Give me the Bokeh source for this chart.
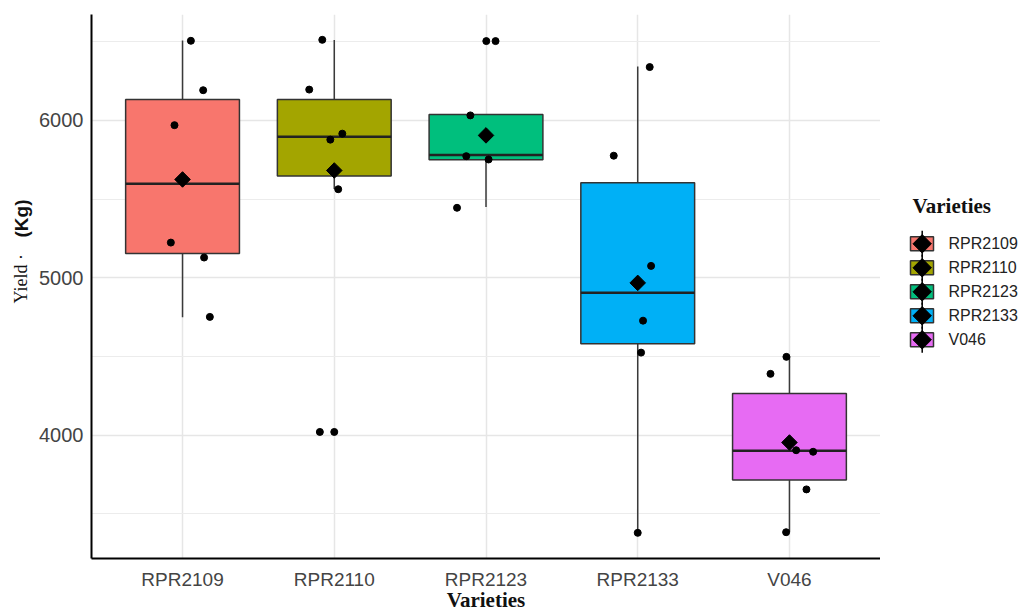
import math
from bokeh.plotting import figure
from bokeh.models import Range1d, FixedTicker, Label, ColumnDataSource
from bokeh.layouts import row
from bokeh.embed import file_html
from bokeh.resources import INLINE

# ---------------- data ----------------
varieties = ["RPR2109", "RPR2110", "RPR2123", "RPR2133", "V046"]
colors = ["#F8766D", "#A3A500", "#00BF7D", "#00B0F6", "#E76BF3"]

q1 = [5155, 5647, 5750, 4582, 3715]
median = [5598, 5897, 5780, 4905, 3901]
q3 = [6133, 6133, 6038, 5604, 4266]
whisker_low = [4750, 5565, 5450, 3380, 3386]
whisker_high = [6508, 6511, 6038, 6343, 4500]
means = [5625, 5682, 5905, 4968, 3954]

rpr2109_yield = [6506, 6192, 5970, 5224, 5129, 4752]
rpr2109_jitter = [0.055, 0.136, -0.053, -0.077, 0.142, 0.180]
rpr2110_yield = [6512, 6196, 5916, 5878, 5563, 4021, 4021]
rpr2110_jitter = [-0.079, -0.165, 0.053, -0.026, 0.026, -0.095, 0.0]
rpr2123_yield = [6504, 6504, 6032, 5773, 5752, 5445]
rpr2123_jitter = [0.002, 0.063, -0.103, -0.130, 0.017, -0.191]
rpr2133_yield = [5776, 6339, 5076, 4728, 4525, 3380]
rpr2133_jitter = [-0.158, 0.079, 0.088, 0.035, 0.022, 0.0]
v046_yield = [4390, 4498, 3905, 3895, 3656, 3384]
v046_jitter = [-0.125, -0.020, 0.044, 0.156, 0.112, -0.022]

y_ticks = [4000, 5000, 6000]
y_minor = [3500, 4500, 5500, 6500]

# ---------------- layout constants ----------------
H = 614
TOP, BOTTOM = 14, 56          # borders shared by all panels
LEFT_W = 34                   # y-title panel
FRAME_L = 91
FRAME_R = 880
MAIN_W = FRAME_R - LEFT_W
LEG_W = 1019 - FRAME_R
FRAME_TOP, FRAME_BOT = TOP, H - BOTTOM

# ---------------- y title panel ----------------
yt = figure(width=LEFT_W, height=H, x_range=Range1d(0, LEFT_W),
            y_range=Range1d(FRAME_BOT, FRAME_TOP),
            output_backend="svg", toolbar_location=None,
            min_border_left=0, min_border_right=0,
            min_border_top=TOP, min_border_bottom=BOTTOM,
            x_axis_location=None, y_axis_location=None)
yt.outline_line_color = None
yt.grid.visible = False
yt.add_layout(Label(x=20, y=303, text="Yield ·", angle=90, angle_units="deg",
                    text_align="left", text_baseline="middle",
                    text_font="Liberation Serif", text_font_size="18px",
                    text_color="#111111"))
yt.add_layout(Label(x=21, y=237, text="(Kg)", angle=90, angle_units="deg",
                    text_align="left", text_baseline="middle",
                    text_font="Liberation Sans", text_font_style="bold",
                    text_font_size="19px", text_color="#111111"))

# ---------------- main plot ----------------
BOX_W = 0.75
xs = [i + 1 for i in range(len(varieties))]

p = figure(width=MAIN_W, height=H,
           x_range=Range1d(0.4, 5.6), y_range=Range1d(3217, 6673),
           output_backend="svg", toolbar_location=None,
           min_border_left=FRAME_L - LEFT_W, min_border_right=0,
           min_border_top=TOP, min_border_bottom=BOTTOM)
p.outline_line_color = None
p.background_fill_color = "white"
p.border_fill_color = "white"

# grid
p.xaxis.ticker = FixedTicker(ticks=xs)
p.yaxis.ticker = FixedTicker(ticks=y_ticks, minor_ticks=y_minor)
p.xgrid.ticker = FixedTicker(ticks=xs)
p.ygrid.ticker = FixedTicker(ticks=y_ticks, minor_ticks=y_minor)
p.xgrid.grid_line_color = "#e6e6e6"
p.xgrid.grid_line_width = 1.5
p.ygrid.grid_line_color = "#e6e6e6"
p.ygrid.grid_line_width = 1.5
p.ygrid.minor_grid_line_color = "#ececec"
p.ygrid.minor_grid_line_width = 1.2

# axes
for ax in (p.xaxis, p.yaxis):
    ax.axis_line_color = "black"
    ax.axis_line_width = 2
    ax.major_tick_line_color = None
    ax.minor_tick_line_color = None
    ax.major_tick_out = 0
    ax.major_tick_in = 0
    ax.minor_tick_out = 0
    ax.minor_tick_in = 0
    ax.major_label_text_font = "Liberation Sans"
    ax.major_label_text_color = "#444444"
p.xaxis.major_label_text_font_size = "19px"
p.yaxis.major_label_text_font_size = "20px"
p.xaxis.major_label_standoff = 10
p.yaxis.major_label_standoff = 8
p.xaxis.major_label_overrides = {x: v for x, v in zip(xs, varieties)}
p.xaxis.axis_label = "Varieties"
p.xaxis.axis_label_text_font = "Liberation Serif"
p.xaxis.axis_label_text_font_style = "bold"
p.xaxis.axis_label_text_font_size = "21px"
p.xaxis.axis_label_text_color = "#111111"
p.xaxis.axis_label_standoff = -5

# boxplot
box_src = ColumnDataSource(dict(
    x=xs, q1=q1, q3=q3, med=median, lo=whisker_low, hi=whisker_high,
    left=[x - BOX_W / 2 for x in xs], right=[x + BOX_W / 2 for x in xs],
    color=colors, mean=means))

p.segment(x0="x", y0="q3", x1="x", y1="hi", source=box_src,
          line_color="#3a3a3a", line_width=1.5)
p.segment(x0="x", y0="q1", x1="x", y1="lo", source=box_src,
          line_color="#3a3a3a", line_width=1.5)
p.quad(left="left", right="right", bottom="q1", top="q3", source=box_src,
       fill_color="color", line_color="#333333", line_width=1.5)
p.segment(x0="left", y0="med", x1="right", y1="med", source=box_src,
          line_color="#222222", line_width=2.5)

# jittered points
groups = [(rpr2109_yield, rpr2109_jitter), (rpr2110_yield, rpr2110_jitter),
          (rpr2123_yield, rpr2123_jitter), (rpr2133_yield, rpr2133_jitter),
          (v046_yield, v046_jitter)]
px, py = [], []
for i, (yv, jv) in enumerate(groups):
    for y, j in zip(yv, jv):
        px.append(xs[i] + j)
        py.append(y)
p.scatter(px, py, size=7, color="black")

# means
p.scatter(x="x", y="mean", source=box_src, marker="square", angle=math.pi / 4,
          size=11, fill_color="black", line_color="black")

# ---------------- legend panel ----------------
lg = figure(width=LEG_W, height=H, x_range=Range1d(0, LEG_W),
            y_range=Range1d(FRAME_BOT, FRAME_TOP),
            output_backend="svg", toolbar_location=None,
            min_border_left=0, min_border_right=0,
            min_border_top=TOP, min_border_bottom=BOTTOM,
            x_axis_location=None, y_axis_location=None)
lg.outline_line_color = None
lg.grid.visible = False

row_y = [243.3 + 24 * i for i in range(len(varieties))]
kx = 41.7
leg_src = ColumnDataSource(dict(
    y=row_y, top=[y - 7 for y in row_y], bot=[y + 7 for y in row_y],
    y0=[y - 13 for y in row_y], y1=[y + 13 for y in row_y],
    x=[kx] * len(row_y), color=colors))
lg.quad(left=30, right=53, top="top", bottom="bot", source=leg_src,
        fill_color="color", line_color="#333333", line_width=1.5)
lg.segment(x0="x", y0="y0", x1="x", y1="y1", source=leg_src,
           line_color="black", line_width=1.5)
lg.scatter(x="x", y="y", source=leg_src, marker="square", angle=math.pi / 4,
           size=13, fill_color="black", line_color="black")

lg.add_layout(Label(x=32, y=205, text="Varieties", text_baseline="middle",
                    text_font="Liberation Serif", text_font_style="bold",
                    text_font_size="21px", text_color="#111111"))
for name, y in zip(varieties, row_y):
    lg.add_layout(Label(x=68, y=y, text=name, text_baseline="middle",
                        text_font="Liberation Sans", text_font_size="16px",
                        text_color="#222222"))

layout = row(yt, p, lg, spacing=0)
open("out.html", "w").write(file_html(layout, INLINE))
